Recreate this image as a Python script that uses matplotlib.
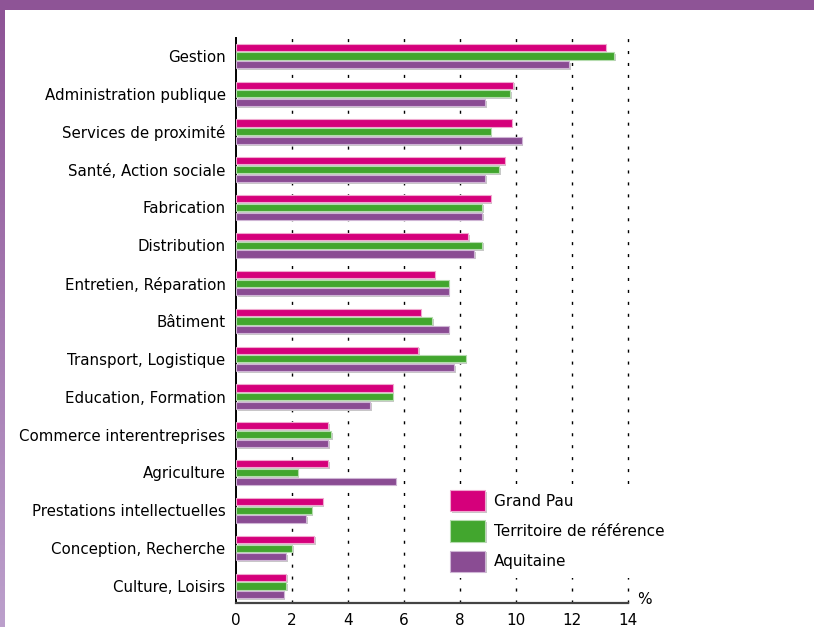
import numpy as np
import matplotlib.pyplot as plt
from matplotlib import patheffects as pe
from matplotlib.patches import Rectangle
from matplotlib.colors import LinearSegmentedColormap

categories = [
    "Gestion", "Administration publique", "Services de proximité",
    "Santé, Action sociale", "Fabrication", "Distribution",
    "Entretien, Réparation", "Bâtiment", "Transport, Logistique",
    "Education, Formation", "Commerce interentreprises", "Agriculture",
    "Prestations intellectuelles", "Conception, Recherche", "Culture, Loisirs",
]
grand_pau = [13.2, 9.9, 9.85, 9.6, 9.1, 8.3, 7.1, 6.6, 6.5, 5.6, 3.3, 3.3, 3.1, 2.8, 1.8]
territoire = [13.5, 9.8, 9.1, 9.4, 8.8, 8.8, 7.6, 7.0, 8.2, 5.6, 3.4, 2.2, 2.7, 2.0, 1.8]
aquitaine = [11.9, 8.9, 10.2, 8.9, 8.8, 8.5, 7.6, 7.6, 7.8, 4.8, 3.3, 5.7, 2.5, 1.8, 1.7]
series_names = ["Grand Pau", "Territoire de référence", "Aquitaine"]
xticks = [0, 2, 4, 6, 8, 10, 12, 14]

colors = ["#d5007b", "#42a62e", "#8a4c93"]
edges = ["#f0a8cf", "#b5dcae", "#cfb5d5"]

fig = plt.figure(figsize=(8.14, 6.27), dpi=100)
fig.patch.set_facecolor("white")

# frame: purple band on top, gradient stripe on the left
fig.patches.append(Rectangle((0, 1 - 10 / 627), 1, 10 / 627, transform=fig.transFigure,
                             facecolor="#8e5496", edgecolor="none", zorder=0))
strip = fig.add_axes([0, 0, 5 / 814, 1 - 10 / 627])
grad = np.linspace(0, 1, 256).reshape(-1, 1)
cmap = LinearSegmentedColormap.from_list("strip", ["#8e5496", "#bca0cc"])
strip.imshow(grad, aspect="auto", cmap=cmap, origin="upper")
strip.axis("off")

ax = fig.add_axes([236 / 814, 1 - 603 / 627, 392 / 814, 565 / 627])
y = np.arange(len(categories))
h = 0.19
offs = [-0.23, 0.0, 0.23]
shadow = [pe.SimplePatchShadow(offset=(1.2, -1.2), shadow_rgbFace="#c8c8c8", alpha=1), pe.Normal()]
for vals, off, c, ec in zip([grand_pau, territoire, aquitaine], offs, colors, edges):
    bars = ax.barh(y + off, vals, height=h, color=c, edgecolor=ec, linewidth=0.8, zorder=3)
    for b in bars:
        b.set_path_effects(shadow)

ax.set_xlim(0, 14)
ax.set_ylim(len(categories) - 0.55, -0.475)
ax.set_yticks(y)
ax.set_yticklabels(categories, fontsize=10.8)
ax.set_xticks(xticks)
ax.set_xticklabels([str(t) for t in xticks], fontsize=11)
ax.tick_params(axis="both", length=0)
ax.tick_params(axis="y", pad=7.5)
ax.tick_params(axis="x", pad=7)

ax.vlines(xticks[1:], *ax.get_ylim(), colors="black", linewidth=1,
          linestyles=(0, (2.2, 6.4)), zorder=1, clip_on=False)

for s in ["top", "right"]:
    ax.spines[s].set_visible(False)
ax.spines["left"].set_color("black")
ax.spines["left"].set_linewidth(1.4)
ax.spines["bottom"].set_color("#444444")
ax.spines["bottom"].set_linewidth(1.6)

fig.text(637 / 814, 1 - 599 / 627, "%", fontsize=11, va="center", ha="left")

handles = [Rectangle((0, 0), 1, 1, facecolor=c, edgecolor=ec, linewidth=0.8,
                     path_effects=shadow) for c, ec in zip(colors, edges)]
leg = fig.legend(handles, series_names, loc="upper left",
                 bbox_to_anchor=(444 / 814, 1 - 484 / 627), frameon=True, fontsize=11,
                 handlelength=2.3, handleheight=1.75, labelspacing=0.6,
                 handletextpad=0.55, borderpad=0.4, borderaxespad=0, fancybox=False)
leg.get_frame().set_facecolor("white")
leg.get_frame().set_edgecolor("none")
leg.get_frame().set_alpha(1)

fig.savefig("out.png", dpi=100, facecolor="white")
